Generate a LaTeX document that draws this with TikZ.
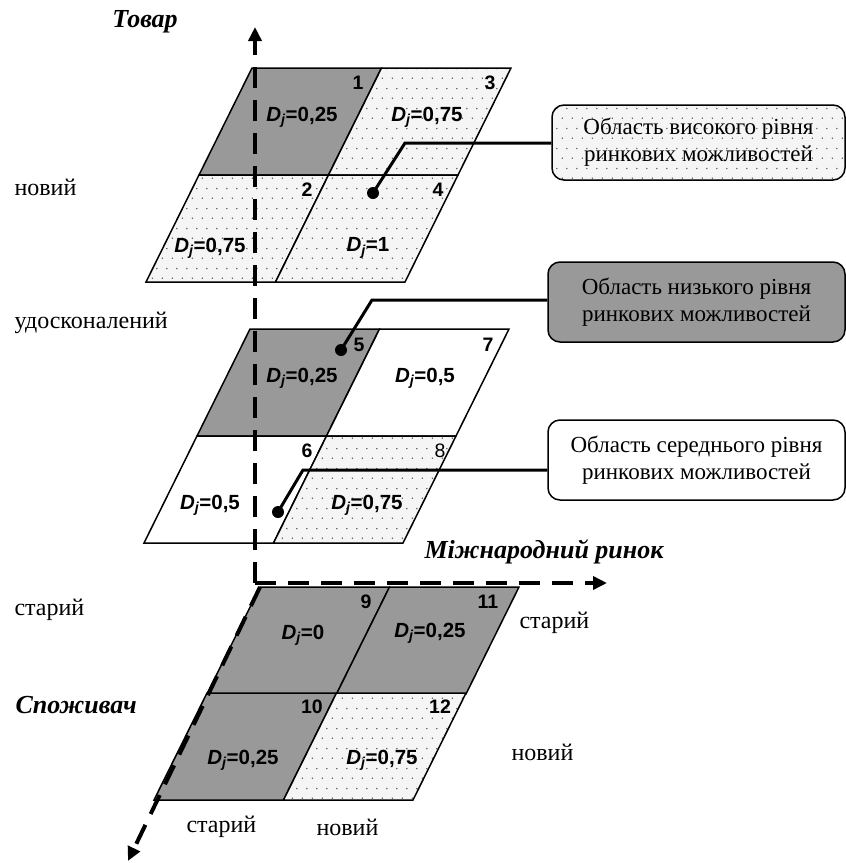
\documentclass[tikz,border=0pt]{standalone}
\usepackage{fontspec}
\setmainfont{Liberation Serif}
\newfontfamily\arialf{Liberation Sans}
\usetikzlibrary{arrows.meta,patterns.meta}

\tikzdeclarepattern{
  name=sparsedots,
  type=uncolored,
  bounding box={(0pt,0pt) and (10pt,20pt)},
  tile size={(10pt,20pt)},
  code={
    \fill (2.5pt,5pt) circle (0.85pt);
    \fill (7.5pt,15pt) circle (0.85pt);
  }
}

% one cell of a panel: top-left x, top-left y, fill style
\newcommand\cell[3]{\draw[cellline,#3] (#1,#2) -- ++(129.5,0) -- ++(-53,107) -- ++(-129.5,0) -- cycle;}
\newcommand\Dval[1]{\textit{D\textsubscript{j}}=#1}

\tikzset{
  cellline/.style={line width=1.5pt, line join=miter},
  grayc/.style={fill=black!40},
  dotc/.style={preaction={fill=black!4}, pattern=sparsedots, pattern color=black!65},
  whitec/.style={fill=white},
  axis/.style={line width=4pt, dash pattern=on 21pt off 12pt, -{Triangle[length=14pt,width=13pt]}},
  conn/.style={line width=3pt},
  dot/.style={circle, fill, inner sep=0pt, minimum size=12pt},
  legend/.style={draw, line width=1.5pt, rounded corners=12pt, minimum width=297pt,
    minimum height=80pt, align=center, font=\fontsize{23}{27}\selectfont},
  val/.style={font=\arialf\bfseries\fontsize{20.5}{22}\selectfont},
  num/.style={font=\arialf\bfseries\fontsize{19.5}{22}\selectfont},
  lbl/.style={font=\fontsize{24}{28}\selectfont, anchor=west},
  ttl/.style={font=\bfseries\itshape\fontsize{26}{28}\selectfont}
}

\begin{document}
\begin{tikzpicture}[x=1pt,y=-1pt]
\useasboundingbox (0,0) rectangle (846,863);

% top panel
\cell{252}{68}{grayc}
\cell{381.5}{68}{dotc}
\cell{199}{175}{dotc}
\cell{328.5}{175}{dotc}

% middle panel
\cell{250}{329}{grayc}
\cell{379.5}{329}{whitec}
\cell{197}{436}{whitec}
\cell{326.5}{436}{dotc}

% bottom panel
\cell{260}{587}{grayc}
\cell{389.5}{587}{grayc}
\cell{207}{693}{grayc}
\cell{336.5}{693}{dotc}

% axes
\coordinate (O) at (255,583);
\coordinate (ytop) at (255,27);
\coordinate (xend) at (607,583);
\coordinate (zstart) at (260,587);
\coordinate (zend) at (128,861);
\draw[axis] (O) -- (ytop);
\draw[axis] (O) -- (xend);
\draw[axis] (zstart) -- (zend);

% cell numbers
\node[num] (n1) at (358,83) {1};
\node[num] (n3) at (490,83) {3};
\node[num] (n2) at (307,190) {2};
\node[num] (n4) at (438,190) {4};
\node[num] (n5) at (359,345) {5};
\node[num] (n7) at (488,345) {7};
\node[num] (n6) at (307,451) {6};
\node[num, font=\arialf\fontsize{19.5}{22}\selectfont] (n8) at (440,451) {8};
\node[num] (n9) at (366,602) {9};
\node[num] (n11) at (488,602) {11};
\node[num] (n10) at (312,707) {10};
\node[num] (n12) at (440,707) {12};

% cell values
\node[val] (v1) at (302,117) {\Dval{0,25}};
\node[val] (v3) at (427,117) {\Dval{0,75}};
\node[val] (v2) at (210,248) {\Dval{0,75}};
\node[val] (v4) at (368,248) {\Dval{1}};
\node[val] (v5) at (302,378) {\Dval{0,25}};
\node[val] (v7) at (425,378) {\Dval{0,5}};
\node[val] (v6) at (210,505) {\Dval{0,5}};
\node[val] (v8) at (367,505) {\Dval{0,75}};
\node[val] (v9) at (303,635) {\Dval{0}};
\node[val] (v11) at (430,633) {\Dval{0,25}};
\node[val] (v10) at (243,760) {\Dval{0,25}};
\node[val] (v12) at (382,760) {\Dval{0,75}};

% legend boxes
\node[legend, dotc, minimum width=293pt, minimum height=75pt] (high) at (698.5,142.5) {Область високого рівня\\ринкових можливостей};
\node[legend, grayc] (low) at (696.5,302) {Область низького рівня\\ринкових можливостей};
\node[legend, whitec] (mid) at (696.5,460) {Область середнього рівня\\ринкових можливостей};

% connectors
\node[dot] (p1) at (373,193) {};
\node[dot] (p2) at (341,350) {};
\node[dot] (p3) at (278,512) {};
\coordinate (k1) at (405,143);
\coordinate (k2) at (372,300);
\coordinate (k3) at (303,470);
\draw[conn] (p1.center) -- (k1) -- (k1 -| high.west);
\draw[conn] (p2.center) -- (k2) -- (k2 -| low.west);
\draw[conn] (p3.center) -- (k3) -- (k3 -| mid.west);

% axis titles
\node[ttl] (tovar) at (145,22) {Товар};
\node[ttl, anchor=west] (rynok) at (421,552) {Міжнародний ринок};
\node[ttl, anchor=west] (spozh) at (12,705) {Споживач};

% level labels
\node[lbl] (l1) at (11,187) {новий};
\node[lbl] (l2) at (11,323) {удосконалений};
\node[lbl] (l3) at (11,610) {старий};
\node[lbl] (l4) at (516,623) {старий};
\node[lbl] (l5) at (508,752) {новий};
\node[lbl] (l6) at (183,827) {старий};
\node[lbl] (l7) at (313,827) {новий};
\end{tikzpicture}
\end{document}
